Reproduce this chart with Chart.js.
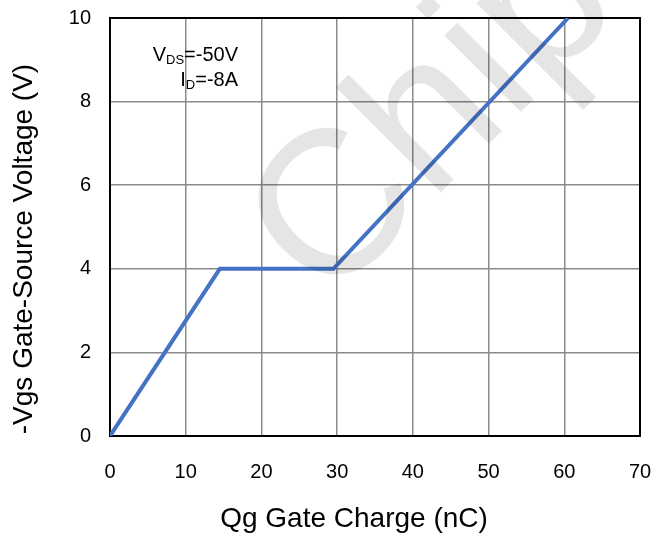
<!DOCTYPE html>
<html>
<head>
<meta charset="utf-8">
<script src="https://cdn.jsdelivr.net/npm/chart.js@4.4.1/dist/chart.umd.min.js"></script>
<style>
  html, body { margin: 0; padding: 0; background: #fff; }
  #wrap { width: 654px; height: 536px; }
</style>
</head>
<body>
<div id="wrap"><canvas id="gateChart"></canvas></div>
<script>
// Gate charge curve points
const gateCharge = [0, 14.5, 29.5, 60.5];   // nC
const gateVoltage = [0, 4, 4, 10];          // -Vgs (V)

// Axis settings
const xMin = 0, xMax = 70, xStep = 10;
const yMin = 0, yMax = 10, yStep = 2;

const xTitle = 'Qg Gate Charge (nC)';
const yTitle = '-Vgs Gate-Source Voltage (V)';
const watermarkText = 'Chip';

const FONT = '"Liberation Sans", Arial, sans-serif';

// Test conditions box, drawn with subscripts
const conditionsPlugin = {
    id: 'conditions',
    afterDraw(chart) {
        const ctx = chart.ctx;
        const rightX = 238;
        const lines = [
            { main: 'V', sub: 'DS', rest: '=-50V', y: 61 },
            { main: 'I', sub: 'D', rest: '=-8A', y: 86 }
        ];
        ctx.save();
        ctx.fillStyle = '#000';
        ctx.textBaseline = 'alphabetic';
        lines.forEach(l => {
            ctx.font = '20px ' + FONT;
            const wMain = ctx.measureText(l.main).width;
            const wRest = ctx.measureText(l.rest).width;
            ctx.font = '13px ' + FONT;
            const wSub = ctx.measureText(l.sub).width;
            let x = rightX - wMain - wSub - wRest;
            ctx.font = '20px ' + FONT;
            ctx.fillText(l.main, x, l.y);
            x += wMain;
            ctx.font = '13px ' + FONT;
            ctx.fillText(l.sub, x, l.y + 3);
            x += wSub;
            ctx.font = '20px ' + FONT;
            ctx.fillText(l.rest, x, l.y);
        });
        ctx.restore();
    }
};

// Axis titles (placed by hand, they are not centred on the plot in the original)
const axisTitlePlugin = {
    id: 'axisTitles',
    afterDraw(chart) {
        const ctx = chart.ctx;
        ctx.save();
        ctx.fillStyle = '#000';
        ctx.textAlign = 'center';
        ctx.textBaseline = 'alphabetic';
        ctx.font = '28px ' + FONT;

        ctx.fillText(xTitle, 354, 527);

        ctx.save();
        ctx.translate(32, 249);
        ctx.rotate(-Math.PI / 2);
        ctx.fillText(yTitle, 0, 0);
        ctx.restore();

        ctx.restore();
    }
};

// Black frame round the plot area
const framePlugin = {
    id: 'frame',
    beforeDatasetsDraw(chart) {
        const { ctx, chartArea: a } = chart;
        ctx.save();
        ctx.strokeStyle = '#000';
        ctx.lineWidth = 2;
        ctx.strokeRect(a.left, a.top, a.right - a.left, a.bottom - a.top);
        ctx.restore();
    }
};

// Light diagonal watermark
const watermarkPlugin = {
    id: 'watermark',
    afterDatasetsDraw(chart) {
        const ctx = chart.ctx;
        ctx.save();
        ctx.translate(326, 307);
        ctx.rotate(-Math.PI / 4);
        ctx.font = '205px ' + FONT;
        ctx.fillStyle = 'rgba(0,0,0,0.1)';
        ctx.textBaseline = 'alphabetic';
        ctx.fillText(watermarkText, 0, 0);
        ctx.restore();
    }
};

function createGateChart() {
    const ctx = document.getElementById('gateChart').getContext('2d');

    new Chart(ctx, {
        type: 'line',
        data: {
            datasets: [{
                data: gateCharge.map((q, i) => ({ x: q, y: gateVoltage[i] })),
                borderColor: '#4472C4',
                borderWidth: 4,
                pointRadius: 0,
                fill: false,
                tension: 0
            }]
        },
        options: {
            responsive: true,
            maintainAspectRatio: false,
            animation: false,
            layout: { padding: { top: 18, right: 14, left: 0, bottom: 0 } },
            plugins: {
                legend: { display: false },
                tooltip: { enabled: false }
            },
            scales: {
                x: {
                    type: 'linear',
                    min: xMin,
                    max: xMax,
                    ticks: {
                        stepSize: xStep,
                        padding: 24,
                        color: '#000',
                        font: { family: FONT, size: 20 }
                    },
                    grid: { color: '#8a8a8a', lineWidth: 1.5, drawTicks: false },
                    border: { display: false },
                    afterFit(scale) {
                        scale.height = 100;
                        scale.paddingLeft = 0;
                        scale.paddingRight = 0;
                    }
                },
                y: {
                    min: yMin,
                    max: yMax,
                    ticks: {
                        stepSize: yStep,
                        padding: 19,
                        color: '#000',
                        font: { family: FONT, size: 20 }
                    },
                    grid: { color: '#8a8a8a', lineWidth: 1.5, drawTicks: false },
                    border: { display: false },
                    afterFit(scale) {
                        scale.width = 110;
                        scale.paddingTop = 0;
                        scale.paddingBottom = 0;
                    }
                }
            }
        },
        plugins: [framePlugin, watermarkPlugin, conditionsPlugin, axisTitlePlugin]
    });
}

createGateChart();
</script>
</body>
</html>
